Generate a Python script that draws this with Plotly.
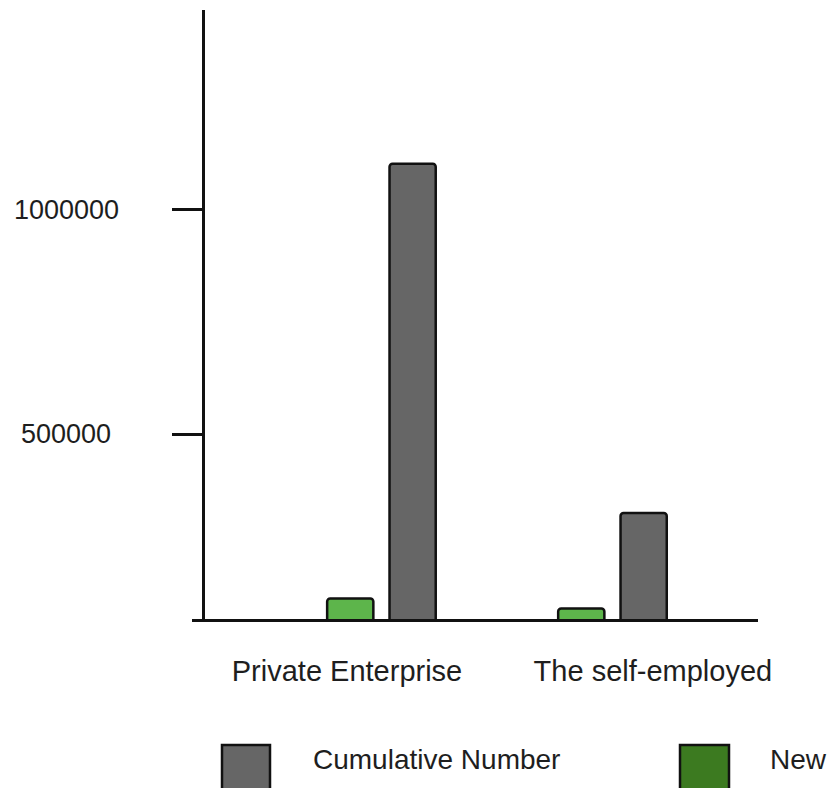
import plotly.graph_objects as go

# Data
categories = ["Private Enterprise", "The self-employed"]
cumulative_number = [1102000, 324000]
new_number = [133600, 111400]
series_names = ["Cumulative Number", "New"]
y_tick_values = [500000, 1000000]
y_tick_labels = ["500000", "1000000"]

W, H = 838, 788
M_L, M_R, M_T, M_B = 192, 80, 10, 169
PW, PH = W - M_L - M_R, H - M_T - M_B

GRAY = "#666666"
GREEN_BAR = "#5db54b"
GREEN_KEY = "#3c7a20"
INK = "#1e1e1e"
FONT = "Liberation Sans, Arial"

idx = list(range(len(categories)))

fig = go.Figure()
fig.add_trace(go.Bar(
    x=idx, y=new_number, name=series_names[1],
    width=0.2, offset=-0.235,
    marker=dict(color=GREEN_BAR, line=dict(color="#111111", width=2.5), cornerradius=3),
    showlegend=False,
))
fig.add_trace(go.Bar(
    x=idx, y=cumulative_number, name=series_names[0],
    width=0.2, offset=0.035,
    marker=dict(color=GRAY, line=dict(color="#111111", width=2.5), cornerradius=3),
    showlegend=False,
))

# category labels sit slightly left / right of each bar pair
label_shift = [-0.149, 0.175]


def px_x(p):
    return (p - M_L) / PW


def px_y(p):
    return (H - M_B - p) / PH


shapes = []
annotations = []

# y tick labels, centred in the left gutter
for v, t in zip(y_tick_values, y_tick_labels):
    annotations.append(dict(xref="paper", yref="y", x=px_x(66), y=v, text=t,
                            showarrow=False, xanchor="center", yanchor="middle",
                            font=dict(family=FONT, size=27, color=INK)))

# manual key with large swatches (runs off the bottom edge)
keys = [(222, 270, 311, GRAY, series_names[0]), (680, 729, 768, GREEN_KEY, series_names[1])]
for x0, x1, tx, col, name in keys:
    shapes.append(dict(type="rect", xref="paper", yref="paper",
                       x0=px_x(x0), x1=px_x(x1), y0=px_y(800), y1=px_y(745),
                       fillcolor=col, line=dict(color="#111111", width=2.5)))
    annotations.append(dict(xref="paper", yref="paper", x=px_x(tx), y=px_y(759),
                            text=name, showarrow=False, xanchor="left", yanchor="middle",
                            font=dict(family=FONT, size=28, color=INK)))

fig.update_layout(
    width=W, height=H,
    margin=dict(l=M_L, r=M_R, t=M_T, b=M_B),
    paper_bgcolor="white", plot_bgcolor="white",
    font=dict(family=FONT, color=INK),
    shapes=shapes, annotations=annotations,
    xaxis=dict(
        range=[-0.820, 1.630],
        tickvals=[i + s for i, s in zip(idx, label_shift)],
        ticktext=categories,
        showgrid=False, zeroline=False,
        showline=True, linecolor="#111111", linewidth=2.5,
        ticks="", ticklabelstandoff=24,
        tickfont=dict(size=29, color=INK),
    ),
    yaxis=dict(
        range=[88000, 1444300],
        tickvals=y_tick_values, showticklabels=False,
        anchor="free", position=(203 - M_L) / PW,
        showgrid=False, zeroline=False,
        showline=True, linecolor="#111111", linewidth=2.5,
        ticks="outside", ticklen=30, tickwidth=2.5, tickcolor="#111111",
    ),
)

fig.write_html("out.html")
